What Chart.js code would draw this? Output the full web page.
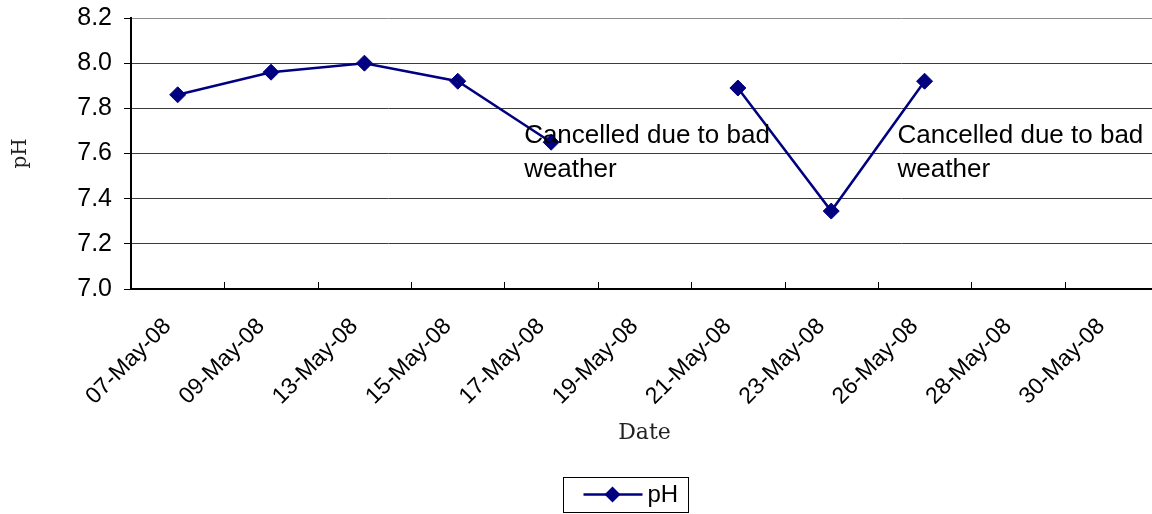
<!DOCTYPE html>
<html>
<head>
<meta charset="utf-8">
<title>pH</title>
<script src="https://cdn.jsdelivr.net/npm/chart.js@4.4.0/dist/chart.umd.min.js"></script>
<style>
    html, body { margin: 0; padding: 0; background: #fff; overflow: hidden; }
    #wrap { position: relative; width: 1250px; height: 514px; }
</style>
</head>
<body>
<div id="wrap"><canvas id="phChart" width="1250" height="514"></canvas></div>
<script>
// Dados
const dateLabels = ['07-May-08', '09-May-08', '13-May-08', '15-May-08', '17-May-08', '19-May-08',
                    '21-May-08', '23-May-08', '26-May-08', '28-May-08', '30-May-08'];
const phValues = [7.86, 7.96, 8.00, 7.92, 7.65, null, 7.89, 7.345, 7.92, null, null];
const yTickValues = [7.0, 7.2, 7.4, 7.6, 7.8, 8.0, 8.2];
const noteLines = ['Cancelled due to bad', 'weather'];
const noteIndex = [4, 8];
const noteValue = 7.646;

const navy = '#000080';
const sansFont = '"Liberation Sans", Arial, sans-serif';
const serifFont = '"DejaVu Serif", "Liberation Serif", serif';

// Marcas do eixo X para dentro da área do gráfico
const innerTicks = {
    id: 'innerTicks',
    afterDraw(chart) {
        const ctx = chart.ctx;
        const x = chart.scales.x;
        const bottom = chart.chartArea.bottom;
        ctx.save();
        ctx.strokeStyle = '#000';
        ctx.lineWidth = 1;
        for (let i = 0; i <= dateLabels.length; i++) {
            const px = Math.round(x.getPixelForValue(i - 0.5)) + 0.5;
            ctx.beginPath();
            ctx.moveTo(px, bottom - 7);
            ctx.lineTo(px, bottom);
            ctx.stroke();
        }
        ctx.restore();
    }
};

// Textos "Cancelled due to bad weather"
const notes = {
    id: 'notes',
    afterDatasetsDraw(chart) {
        const ctx = chart.ctx;
        const x = chart.scales.x;
        const y = chart.scales.y;
        ctx.save();
        ctx.fillStyle = '#000';
        ctx.font = '26px ' + sansFont;
        ctx.textAlign = 'left';
        ctx.textBaseline = 'alphabetic';
        noteIndex.forEach(idx => {
            const px = x.getPixelForValue(idx) - 27;
            const py = y.getPixelForValue(noteValue);
            noteLines.forEach((line, k) => ctx.fillText(line, px, py + k * 34));
        });
        ctx.restore();
    }
};

// Legenda com moldura
const boxedLegend = {
    id: 'boxedLegend',
    afterDraw(chart) {
        const ctx = chart.ctx;
        const ds = chart.data.datasets[0];
        const w = 125, h = 35, top = 477;
        const left = Math.round(chart.width / 2 - w / 2) + 0.5;
        ctx.save();
        ctx.strokeStyle = '#000';
        ctx.lineWidth = 1;
        ctx.strokeRect(left, top + 0.5, w, h);
        const cy = top + h / 2;
        ctx.strokeStyle = ds.borderColor;
        ctx.lineWidth = ds.borderWidth;
        ctx.beginPath();
        ctx.moveTo(left + 20, cy);
        ctx.lineTo(left + 79, cy);
        ctx.stroke();
        ctx.fillStyle = ds.backgroundColor;
        ctx.beginPath();
        ctx.moveTo(left + 49, cy - 8);
        ctx.lineTo(left + 57, cy);
        ctx.lineTo(left + 49, cy + 8);
        ctx.lineTo(left + 41, cy);
        ctx.closePath();
        ctx.fill();
        ctx.fillStyle = '#000';
        ctx.font = '24px ' + sansFont;
        ctx.textAlign = 'left';
        ctx.textBaseline = 'middle';
        ctx.fillText(ds.label, left + 84, cy + 1);
        ctx.restore();
    }
};

const ctx = document.getElementById('phChart').getContext('2d');
new Chart(ctx, {
    type: 'line',
    data: {
        labels: dateLabels,
        datasets: [{
            label: 'pH',
            data: phValues,
            borderColor: navy,
            backgroundColor: navy,
            borderWidth: 2.5,
            pointStyle: 'rectRot',
            pointRadius: 8,
            pointBorderWidth: 1,
            pointBackgroundColor: navy,
            pointBorderColor: navy,
            tension: 0,
            spanGaps: false
        }]
    },
    options: {
        responsive: false,
        animation: false,
        devicePixelRatio: 1,
        layout: { padding: { top: 18, left: 0, right: 92, bottom: 59 } },
        plugins: {
            legend: { display: false },
            tooltip: { enabled: false }
        },
        scales: {
            x: {
                type: 'category',
                offset: true,
                afterFit: function(scale) { scale.height = 166; },
                grid: { display: true, drawOnChartArea: false, drawTicks: false },
                border: { color: '#000', width: 2 },
                ticks: {
                    autoSkip: false,
                    minRotation: 45,
                    maxRotation: 45,
                    padding: 24,
                    labelOffset: -10,
                    color: '#000',
                    font: { family: sansFont, size: 23 }
                },
                title: {
                    display: true,
                    text: 'Date',
                    color: '#222',
                    font: { family: serifFont, size: 22 },
                    padding: { top: 4, bottom: 9 }
                }
            },
            y: {
                min: 7.0,
                max: 8.2,
                afterFit: function(scale) {
                    scale.width = 131;
                    scale.paddingTop = 0;
                    scale.paddingBottom = 0;
                },
                afterBuildTicks: function(scale) {
                    scale.ticks = yTickValues.map(v => ({ value: v }));
                },
                grid: {
                    color: function(context) {
                        return context.tick && context.tick.value === 8.2 ? '#8c8c8c' : '#3c3c3c';
                    },
                    lineWidth: 1,
                    tickLength: 7,
                    tickColor: '#000'
                },
                border: { color: '#000', width: 2 },
                ticks: {
                    padding: 12,
                    color: '#000',
                    font: { family: sansFont, size: 25 },
                    callback: function(value) { return Number(value).toFixed(1); }
                },
                title: {
                    display: true,
                    text: 'pH',
                    color: '#222',
                    font: { family: serifFont, size: 20 },
                    padding: { top: 9, bottom: 0 }
                }
            }
        }
    },
    plugins: [innerTicks, notes, boxedLegend]
});
</script>
</body>
</html>
